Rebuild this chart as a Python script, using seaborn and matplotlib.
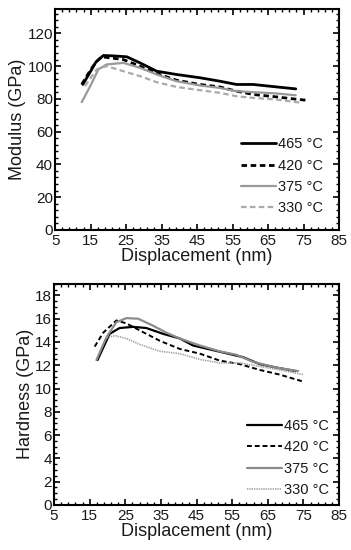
import numpy as np
import pandas as pd
import seaborn as sns
import matplotlib
matplotlib.use("Agg")
import matplotlib.pyplot as plt
from matplotlib.ticker import MultipleLocator

# modulus vs displacement (top panel)
mod_x_465 = [12.8, 14.5, 16.5, 18.6, 21.0, 25.2, 28.9, 33.6, 39.2, 45.8, 51.4, 56.1, 60.8, 67.4, 72.8]
mod_y_465 = [88.8, 95.0, 102.5, 106.5, 106.3, 105.7, 102.0, 96.9, 94.9, 92.9, 90.8, 88.8, 88.8, 87.3, 86.1]
mod_x_420 = [12.5, 14.5, 16.5, 18.1, 24.2, 28.9, 33.6, 39.2, 45.8, 51.4, 56.1, 60.8, 67.4, 72.1, 75.6]
mod_y_420 = [88.8, 96.0, 102.5, 105.7, 104.0, 100.0, 95.5, 91.4, 88.8, 87.3, 84.7, 82.7, 81.2, 80.0, 79.2]
mod_x_375 = [12.5, 14.9, 17.2, 19.5, 24.2, 28.9, 33.6, 39.2, 45.8, 51.4, 56.1, 60.8, 67.4, 72.8]
mod_y_375 = [78.0, 87.8, 98.0, 101.0, 102.0, 99.0, 94.9, 90.8, 88.2, 86.7, 84.7, 84.1, 83.3, 82.2]
mod_x_330 = [13.4, 16.7, 19.5, 24.2, 28.9, 33.6, 39.2, 45.8, 51.4, 56.1, 60.8, 67.4, 74.4]
mod_y_330 = [87.8, 98.0, 100.0, 96.9, 93.9, 90.2, 87.3, 85.3, 83.7, 81.6, 80.6, 79.6, 77.6]

# hardness vs displacement (bottom panel)
hard_x_465 = [17.2, 20.6, 23.4, 27.2, 30.9, 35.6, 40.3, 44.0, 49.6, 55.2, 58.0, 62.7, 67.4, 72.8]
hard_y_465 = [12.45, 14.7, 15.2, 15.3, 15.2, 14.7, 14.3, 13.7, 13.3, 12.9, 12.7, 12.1, 11.8, 11.5]
hard_x_420 = [16.4, 18.8, 22.5, 25.3, 29.0, 34.7, 40.3, 45.9, 51.5, 57.1, 62.7, 68.3, 74.9]
hard_y_420 = [13.6, 14.8, 15.85, 15.6, 15.0, 14.1, 13.4, 13.0, 12.4, 12.1, 11.6, 11.2, 10.6]
hard_x_375 = [16.9, 19.7, 22.5, 25.3, 28.6, 32.8, 36.5, 40.3, 45.9, 51.5, 56.2, 60.8, 67.4, 73.5]
hard_y_375 = [12.45, 14.4, 15.7, 16.05, 16.0, 15.4, 14.8, 14.3, 13.7, 13.2, 12.9, 12.3, 11.8, 11.5]
hard_x_330 = [19.7, 22.0, 25.3, 29.0, 34.7, 40.3, 45.9, 51.5, 57.1, 62.7, 68.3, 74.9]
hard_y_330 = [14.35, 14.55, 14.3, 13.8, 13.2, 13.0, 12.5, 12.2, 12.2, 11.9, 11.6, 11.2]

labels = ["465 °C", "420 °C", "375 °C", "330 °C"]
x_ticks = list(range(5, 86, 10))

sns.set_style("white")
plt.rcParams["font.family"] = ["Liberation Sans", "DejaVu Sans"]
plt.rcParams["text.color"] = "#1a1a1a"
plt.rcParams["axes.labelcolor"] = "#1a1a1a"

fig = plt.figure(figsize=(3.51, 5.5), dpi=100)
ax1 = fig.add_axes([0.157, 0.582, 0.809, 0.402])
ax2 = fig.add_axes([0.154, 0.082, 0.812, 0.402])


def draw(ax, xs, ys, styles):
    for x, y, lab, st in zip(xs, ys, labels, styles):
        df = pd.DataFrame({"x": x, "y": y})
        sns.lineplot(data=df, x="x", y="y", ax=ax, sort=False, label=lab, **st)


draw(ax1,
     [mod_x_465, mod_x_420, mod_x_375, mod_x_330],
     [mod_y_465, mod_y_420, mod_y_375, mod_y_330],
     [dict(color="black", lw=2.0),
      dict(color="black", lw=2.0, dashes=(2, 1.3)),
      dict(color="#999999", lw=1.6),
      dict(color="#aaaaaa", lw=1.6, dashes=(2.5, 1.5))])

draw(ax2,
     [hard_x_465, hard_x_420, hard_x_375, hard_x_330],
     [hard_y_465, hard_y_420, hard_y_375, hard_y_330],
     [dict(color="black", lw=1.6),
      dict(color="black", lw=1.4, dashes=(2.5, 1.5)),
      dict(color="#8c8c8c", lw=1.6),
      dict(color="#a0a0a0", lw=1.2, dashes=(0.8, 0.6))])

ax1.set_ylim(0, 135)
ax1.yaxis.set_major_locator(MultipleLocator(20))
ax1.yaxis.set_minor_locator(MultipleLocator(4))
ax1.set_ylabel("Modulus (GPa)", fontsize=13)

ax2.set_ylim(0, 19)
ax2.yaxis.set_major_locator(MultipleLocator(2))
ax2.yaxis.set_minor_locator(MultipleLocator(0.5))
ax2.set_ylabel("Hardness (GPa)", fontsize=13)

for ax in (ax1, ax2):
    ax.set_xlim(5, 85)
    ax.set_xticks(x_ticks)
    ax.set_xticks(np.arange(5, 86, 2), minor=True)
    ax.set_xlabel("Displacement (nm)", fontsize=13, labelpad=0)
    ax.tick_params(which="both", direction="in", top=True, right=True,
                   bottom=True, left=True, labelsize=11, pad=1.5,
                   color="black", labelcolor="#1a1a1a")
    ax.tick_params(axis="x", which="both", pad=3)
    ax.tick_params(which="major", length=4, width=1.2)
    ax.tick_params(which="minor", length=2.5, width=1.0)
    for sp in ax.spines.values():
        sp.set_color("black")
        sp.set_linewidth(1.5)
    ax.yaxis.labelpad = 1

ax1.legend(loc="lower right", frameon=False, fontsize=10.5, handlelength=2.4,
           handletextpad=0.1, labelspacing=0.5, borderaxespad=0.3,
           bbox_to_anchor=(0.978, 0.02))
ax2.legend(loc="lower right", frameon=False, fontsize=10.5, handlelength=2.4,
           handletextpad=0.1, labelspacing=0.5, borderaxespad=0.3,
           bbox_to_anchor=(1.0, -0.01))

fig.savefig("out.png", dpi=100)
